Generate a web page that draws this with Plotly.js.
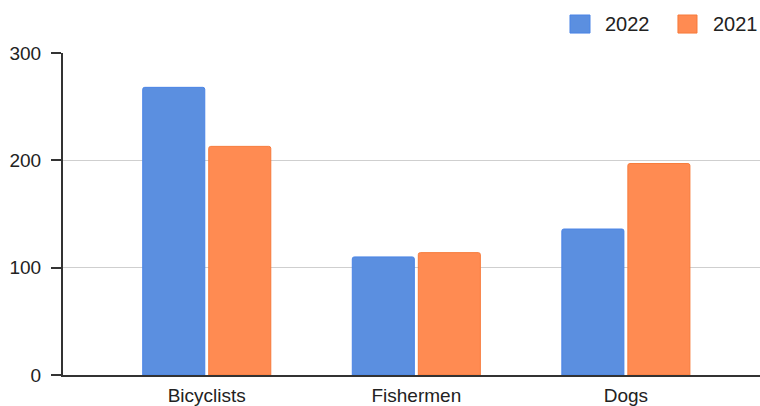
<!DOCTYPE html>
<html>
<head>
<meta charset="utf-8">
<script src="https://cdn.plot.ly/plotly-3.0.1.min.js"></script>
<style>html,body{margin:0;padding:0;background:#fff;}#chart{width:760px;height:406px;}</style>
</head>
<body>
<div id="chart"></div>
<script>
const categories = ["Bicyclists", "Fishermen", "Dogs"];
const seriesNames = ["2022", "2021"];
const values2022 = [268, 110, 136];
const values2021 = [213, 114, 197];
const yTicks = [0, 100, 200, 300];
const colors = ["#5b8fe0", "#ff8b52"];
const borders = ["#4a84e6", "#f77a3a"];

const traces = [
  {type: "bar", name: seriesNames[0], x: categories, y: values2022,
   marker: {color: colors[0], line: {color: borders[0], width: 1}, cornerradius: 2}},
  {type: "bar", name: seriesNames[1], x: categories, y: values2021,
   marker: {color: colors[1], line: {color: borders[1], width: 1}, cornerradius: 2}}
];

// custom legend (larger squares like the reference)
const legendBoxes = [[0.7274, 0.7561], [0.8823, 0.9096]];
const legendText = [0.7747, 0.9297];
const shapes = legendBoxes.map((b, i) => ({
  type: "rect", xref: "paper", yref: "paper", x0: b[0], x1: b[1], y0: 1.062, y1: 1.118,
  fillcolor: colors[i], line: {color: borders[i], width: 1}
}));
const annotations = legendText.map((x, i) => ({
  xref: "paper", yref: "paper", x: x, y: 1.090, xanchor: "left", yanchor: "middle",
  text: seriesNames[i], showarrow: false, font: {size: 20, color: "#222"}
}));

const layout = {
  width: 760, height: 406,
  margin: {l: 63, r: 0, t: 53, b: 31},
  paper_bgcolor: "#ffffff", plot_bgcolor: "#ffffff",
  font: {family: "Liberation Sans, Arial, sans-serif", size: 19, color: "#222"},
  barmode: "group", bargap: 0.37, bargroupgap: 0.06,
  showlegend: false,
  shapes: shapes,
  annotations: annotations,
  xaxis: {type: "category", range: [-0.686, 2.64], showline: true, linecolor: "#333", linewidth: 2,
          ticks: "", showgrid: false, zeroline: false, tickfont: {size: 19}, ticklabelstandoff: 2},
  yaxis: {range: [0, 300], tickvals: yTicks, ticktext: yTicks.map(String), showline: true,
          linecolor: "#333", linewidth: 2, ticks: "outside", ticklen: 10, tickwidth: 2, tickcolor: "#333",
          showgrid: true, gridcolor: "#cfcfcf", gridwidth: 1, zeroline: false, tickfont: {size: 19},
          ticklabelstandoff: 6}
};

Plotly.newPlot("chart", traces, layout, {displayModeBar: false, staticPlot: true});
</script>
</body>
</html>
